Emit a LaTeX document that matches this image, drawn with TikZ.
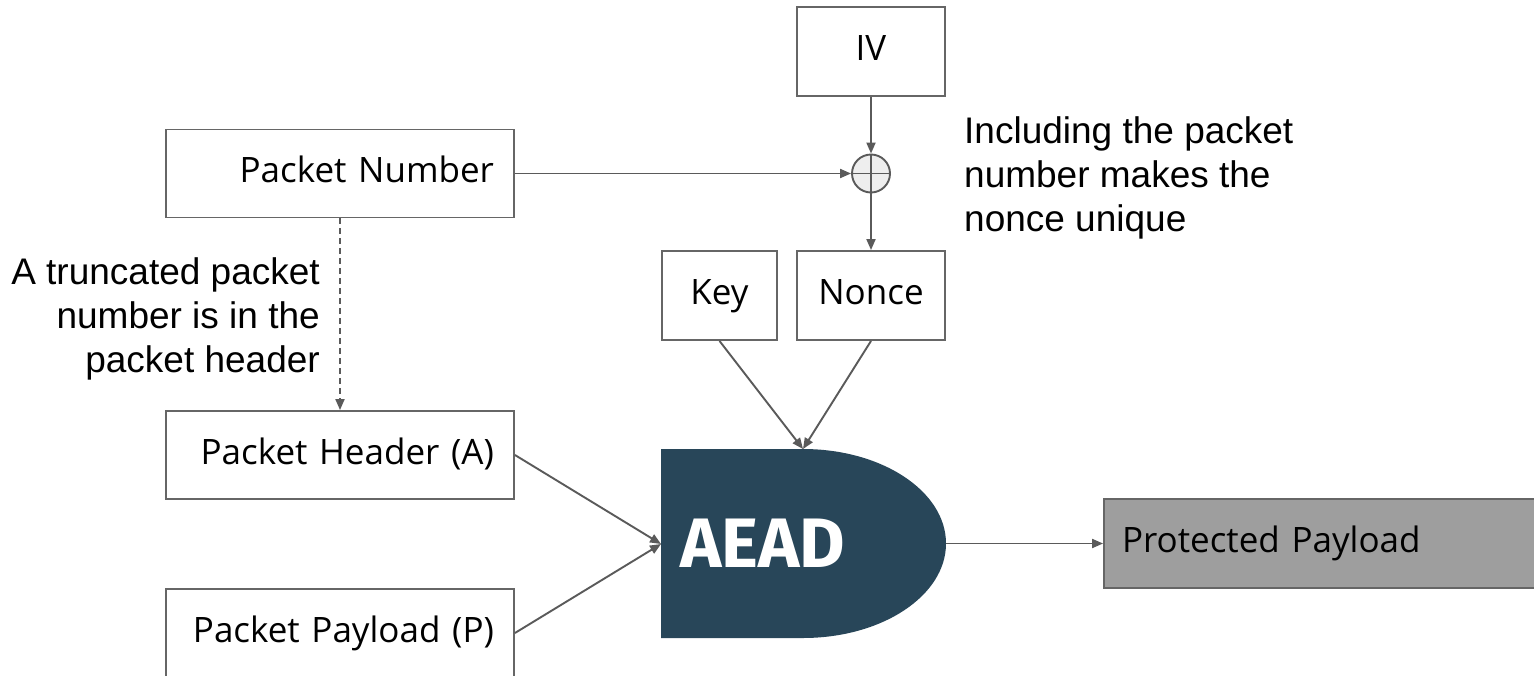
\documentclass[tikz,border=0pt]{standalone}
\usepackage{fontspec}
\setmainfont{Open Sans}
\newfontfamily\notefont{Liberation Sans}
\newfontfamily\aeadfont{Fira Sans}
\usetikzlibrary{arrows.meta}

\definecolor{linegray}{HTML}{5A5A5A}
\definecolor{boxgray}{HTML}{666666}
\definecolor{aeadblue}{HTML}{284659}
\definecolor{outgray}{HTML}{9E9E9E}
\definecolor{xorfill}{HTML}{EEEEEE}

\tikzset{
  box/.style={draw=boxgray, line width=1.9pt, fill=white, inner ysep=0pt,
    font=\fontsize{35}{42}\selectfont, text height=26pt, text depth=8pt},
  wideleft/.style={box, inner xsep=20pt, text width=308pt, align=right,
    minimum height=88pt},
  smallbox/.style={box, inner xsep=0pt, minimum height=89pt},
  outbox/.style={box, fill=outgray, inner xsep=18pt, text width=404pt,
    align=left, minimum height=89pt},
  xorop/.style={circle, draw=linegray, fill=xorfill, line width=1.9pt,
    minimum size=38pt, inner sep=0pt},
  flow/.style={draw=linegray, line width=1.9pt,
    -{Triangle[length=11pt,width=9pt]}},
  dashflow/.style={flow, dash pattern=on 6pt off 4pt},
  note/.style={font=\notefont\fontsize{37}{44}\selectfont, inner sep=0pt},
}

\begin{document}
\begin{tikzpicture}[x=1pt, y=-1pt]
  \clip (0,0) rectangle (1534,675);
  \fill[white] (0,0) rectangle (1534,675);

  % inputs on the left
  \node[wideleft, minimum width=348pt] (pn) at (340,173.5) {Packet Number};
  \node[wideleft, minimum width=348pt] (ph) at (340,455) {Packet Header (A)};
  \node[wideleft, minimum width=348pt] (pp) at (340,633) {Packet Payload (P)};

  % nonce construction
  \node[smallbox, minimum width=148pt] (iv) at (871,51.5) {IV};
  \node[xorop] (xor) at (871,173.5) {};
  \draw[linegray, line width=1.9pt] (xor.north) -- (xor.south)
                                     (xor.west) -- (xor.east);
  \node[smallbox, minimum width=115pt] (key) at (719.5,295.5) {Key};
  \node[smallbox, minimum width=148pt] (nonce) at (871,295.5) {Nonce};

  % AEAD block
  \fill[aeadblue] (661,449) -- (803,449)
    .. controls (882,449) and (946,491.3) .. (946,543.5)
    .. controls (946,595.7) and (882,638) .. (803,638)
    -- (661,638) -- cycle;
  \coordinate (aeadtop) at (803,449);
  \coordinate (aeadleft) at (661,544);
  \coordinate (aeadright) at (946,543.5);
  \node[anchor=base west, inner sep=0pt, text=white,
        font=\aeadfont\bfseries\fontsize{70}{70}\selectfont]
        (aeadlabel) at (680,567) {AEAD};

  % output
  \node[outbox, minimum width=440pt] (out) at (1324,543.5) {Protected Payload};

  % connectors
  \draw[flow] (pn.east) -- (xor.west);
  \draw[flow] (iv.south) -- (xor.north);
  \draw[flow] (xor.south) -- (nonce.north);
  \draw[flow] (key.south) -- (aeadtop);
  \draw[flow] (nonce.south) -- (aeadtop);
  \draw[flow] (ph.east) -- (aeadleft);
  \draw[flow] (pp.east) -- (aeadleft);
  \draw[flow] (aeadright) -- (out.west);
  \draw[dashflow] (pn.south) -- (ph.north);

  % annotations
  \node[note, anchor=east, align=right] (trunc) at (320,319)
    {A truncated packet\\number is in the\\packet header};
  \node[note, anchor=west, align=left] (uniq) at (964,178)
    {Including the packet\\number makes the\\nonce unique};
\end{tikzpicture}
\end{document}
